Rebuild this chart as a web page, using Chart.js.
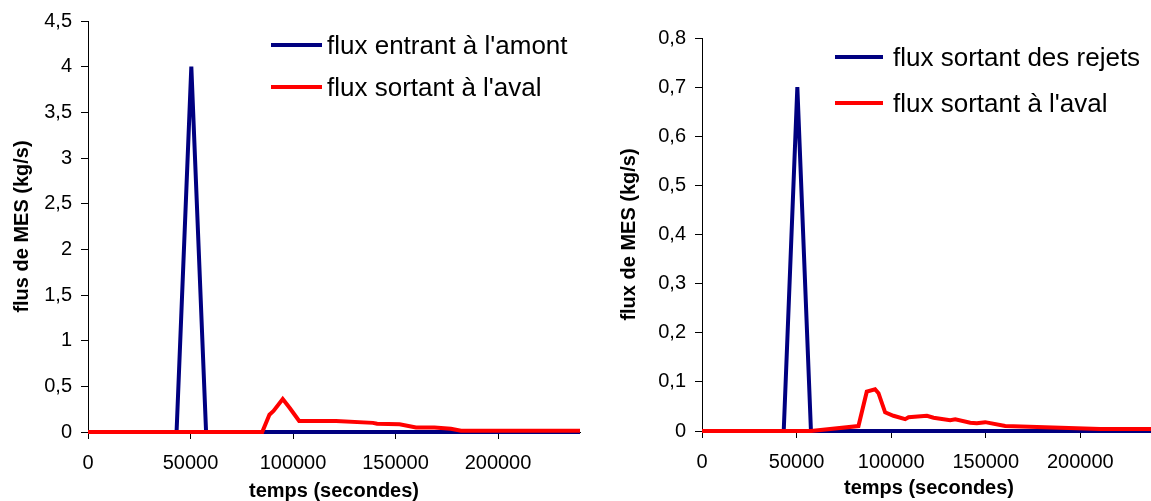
<!DOCTYPE html>
<html lang="fr">
<head>
<meta charset="utf-8">
<title>Flux de MES</title>
<script src="https://cdn.jsdelivr.net/npm/chart.js@4/dist/chart.umd.min.js"></script>
<style>
  html, body { margin: 0; padding: 0; background: #fff; overflow: hidden; }
  canvas { position: absolute; top: 0; }
  #gauche { left: 0; }
  #droite { left: 580px; }
</style>
</head>
<body>
<canvas id="gauche" width="585" height="501"></canvas>
<canvas id="droite" width="580" height="501"></canvas>
<script>
// temps en secondes, flux en kg/s
const tempsAmont = [0, 43200, 50400, 57600, 240000];
const fluxAmont  = [0, 0, 4.0, 0, 0];

const tempsAvalG = [0, 85000, 88500, 90500, 95000, 98500, 103000, 121000, 139000, 141000, 152000, 160000, 169000, 177000, 182000, 240000];
const fluxAvalG  = [0, 0, 0.19, 0.23, 0.36, 0.26, 0.12, 0.12, 0.10, 0.09, 0.085, 0.05, 0.05, 0.035, 0.015, 0.015];

const tempsRejets = [0, 43200, 50400, 57600, 240000];
const fluxRejets  = [0, 0, 0.70, 0, 0];

const tempsAvalD = [0, 57600, 82700, 87100, 91500, 93300, 96800, 101200, 107400, 109200, 118900, 122400, 131200, 133900, 141800, 145300, 149700, 160300, 177100, 210600, 240000];
const fluxAvalD  = [0, 0, 0.01, 0.08, 0.085, 0.077, 0.038, 0.031, 0.024, 0.028, 0.031, 0.027, 0.022, 0.024, 0.017, 0.016, 0.018, 0.010, 0.008, 0.004, 0.004];

const xMax = 240000;
const xGraduations = [0, 50000, 100000, 150000, 200000];

const POLICE = "'Liberation Sans', Arial, Helvetica, sans-serif";
Chart.defaults.font.family = POLICE;
Chart.defaults.color = '#000';

function points(xs, ys) {
  return xs.map((x, i) => ({ x: x, y: ys[i] }));
}

function virgule(v) {
  return String(v).replace('.', ',');
}

// légende dessinée à la main : trait + libellé
const cleLegende = {
  id: 'cleLegende',
  afterDraw(chart, args, opts) {
    const ctx = chart.ctx;
    ctx.save();
    ctx.font = '26px ' + POLICE;
    ctx.textBaseline = 'alphabetic';
    ctx.fillStyle = '#000';
    chart.data.datasets.forEach((ds, i) => {
      const y = opts.y + i * opts.pas;
      ctx.strokeStyle = ds.borderColor;
      ctx.lineWidth = 4;
      ctx.beginPath();
      ctx.moveTo(opts.x, y);
      ctx.lineTo(opts.x + opts.trait, y);
      ctx.stroke();
      ctx.fillText(ds.label, opts.x + opts.trait + opts.ecart, y + 9);
    });
    ctx.restore();
  }
};

function graphique(id, cfg) {
  new Chart(document.getElementById(id), {
    type: 'line',
    data: {
      datasets: [{
        label: cfg.labels[0],
        data: points(cfg.bleu[0], cfg.bleu[1]),
        borderColor: '#000080',
        borderWidth: 4,
        pointRadius: 0,
        clip: 6,
        order: 1
      }, {
        label: cfg.labels[1],
        data: points(cfg.rouge[0], cfg.rouge[1]),
        borderColor: '#ff0000',
        borderWidth: 4,
        pointRadius: 0,
        clip: 6,
        order: 0
      }]
    },
    options: {
      responsive: false,
      animation: false,
      layout: { padding: { top: cfg.haut, right: cfg.droite, left: 0, bottom: 0 } },
      scales: {
        x: {
          type: 'linear',
          min: 0,
          max: xMax,
          afterFit: s => { s.height = cfg.hautX; },
          afterBuildTicks: s => { s.ticks = xGraduations.map(v => ({ value: v })); },
          ticks: {
            padding: 12,
            font: { size: 20 },
            callback: v => String(v)
          },
          grid: { drawOnChartArea: false, drawTicks: true, tickLength: 7, color: '#000' },
          border: { display: true, color: '#000', width: 1 },
          title: {
            display: true,
            text: 'temps (secondes)',
            font: { size: 20, weight: 'bold', lineHeight: 1 },
            padding: { top: 0, bottom: cfg.titreX }
          }
        },
        y: {
          min: 0,
          max: cfg.yMax,
          afterFit: s => { s.width = cfg.largeurY; },
          ticks: {
            stepSize: cfg.yPas,
            padding: 9,
            font: { size: 20 },
            callback: v => virgule(v)
          },
          grid: { drawOnChartArea: false, drawTicks: true, tickLength: 7, color: '#000' },
          border: { display: true, color: '#000', width: 1 },
          title: {
            display: true,
            text: cfg.titreY,
            font: { size: 20, weight: 'bold', lineHeight: 1 },
            padding: { top: cfg.titreYPad, bottom: 0 }
          }
        }
      },
      plugins: {
        legend: { display: false },
        tooltip: { enabled: false },
        cleLegende: cfg.legende
      }
    },
    plugins: [cleLegende]
  });
}

graphique('gauche', {
  labels: ["flux entrant à l'amont", "flux sortant à l'aval"],
  bleu: [tempsAmont, fluxAmont],
  rouge: [tempsAvalG, fluxAvalG],
  yMax: 4.5, yPas: 0.5,
  haut: 19, droite: 5, hautX: 69, largeurY: 88,
  titreY: 'flus de MES (kg/s)', titreYPad: 12, titreX: 0,
  legende: { x: 271, y: 45, pas: 42, trait: 51, ecart: 5 }
});

graphique('droite', {
  labels: ['flux sortant des rejets', "flux sortant à l'aval"],
  bleu: [tempsRejets, fluxRejets],
  rouge: [tempsAvalD, fluxAvalD],
  yMax: 0.8, yPas: 0.1,
  haut: 38, droite: 4, hautX: 70, largeurY: 122,
  titreY: 'flux de MES (kg/s)', titreYPad: 39, titreX: 3,
  legende: { x: 255, y: 57, pas: 46, trait: 48, ecart: 10 }
});
</script>
</body>
</html>
